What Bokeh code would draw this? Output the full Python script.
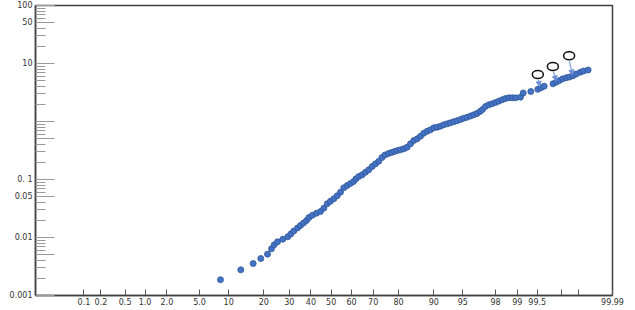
from statistics import NormalDist
from bokeh.plotting import figure
from bokeh.models import (ColumnDataSource, FixedTicker, Arrow, NormalHead,
                          CustomJSTickFormatter)
from bokeh.embed import file_html
from bokeh.resources import INLINE

# ---------------- data (cumulative probability %, value) ----------------
pct = [8.32, 12.92, 16.48, 18.94, 21.30, 22.78, 23.81, 25.11, 27.26, 29.37,
       30.68, 32.01, 33.69, 35.05, 36.47, 37.87, 39.07, 40.75, 42.70, 44.67,
       46.31, 48.01, 49.64, 51.30, 52.99, 54.62, 56.26, 57.93, 59.52, 60.99,
       62.17, 63.50, 65.08, 66.60, 68.08, 69.59, 71.02, 72.41, 73.73, 74.94,
       76.30, 77.46, 78.55, 79.64, 80.68, 81.79, 82.89, 83.92, 84.91, 85.88,
       86.78, 87.65, 88.49, 89.27, 90.02, 90.74, 91.40, 92.04, 92.65, 93.20,
       93.73, 94.21, 94.70, 95.13, 95.52, 95.92, 96.27, 96.58, 96.86, 97.07,
       97.31, 97.56, 97.79, 98.00, 98.19, 98.37, 98.53, 98.68, 98.82, 98.94,
       99.10, 99.18, 99.37, 99.510, 99.563, 99.612, 99.722, 99.754, 99.784,
       99.810, 99.835, 99.855, 99.874, 99.890, 99.908, 99.920, 99.934]
val = [0.00187, 0.00277, 0.00356, 0.00434, 0.00516, 0.00639, 0.00748, 0.00843,
       0.00935, 0.01028, 0.01149, 0.01295, 0.01458, 0.01610, 0.01778, 0.01964,
       0.02212, 0.02424, 0.02624, 0.02807, 0.03200, 0.03811, 0.04225, 0.04647,
       0.05236, 0.06039, 0.07192, 0.07880, 0.08531, 0.09237, 0.1028, 0.1126,
       0.1205, 0.1336, 0.1470, 0.1675, 0.1865, 0.2067, 0.2394, 0.2645, 0.2807,
       0.2920, 0.3039, 0.3162, 0.3252, 0.3383, 0.3605, 0.4125, 0.4703, 0.5031,
       0.5579, 0.6287, 0.6805, 0.7192, 0.7788, 0.7975, 0.8299, 0.8772, 0.9128,
       0.9497, 0.9922, 1.032, 1.083, 1.140, 1.181, 1.244, 1.305, 1.374, 1.487,
       1.610, 1.814, 1.941, 2.020, 2.126, 2.239, 2.367, 2.493, 2.563, 2.563,
       2.563, 2.624, 3.100, 3.290, 3.591, 3.811, 4.061, 4.467, 4.760, 5.092,
       5.446, 5.666, 5.849, 6.135, 6.592, 7.079, 7.424, 7.725]

# highlighted points: open circles with arrows
mark_pct = [99.51, 99.72, 99.853]
mark_val = [6.46, 8.88, 13.58]
arrow_pct0 = [99.52, 99.727, 99.855]
arrow_val0 = [5.195, 7.28, 10.83]
arrow_pct1 = [99.54, 99.752, 99.872]
arrow_val1 = [4.012, 4.992, 6.33]

# axis ticks
x_tick_pct = [0.1, 0.2, 0.5, 1.0, 2.0, 5.0, 10, 20, 30, 40, 50, 60, 70, 80,
              90, 95, 98, 99, 99.5, 99.8, 99.9]
x_tick_lab = ["0.1", "0.2", "0.5", "1.0", "2.0", "5.0", "10", "20", "30",
              "40", "50", "60", "70", "80", "90", "95", "98", "99", "99.5",
              "", ""]
x_end_label = "99.99"
y_major = [0.001, 0.005, 0.01, 0.05, 0.1, 0.5, 1, 10, 50, 100]
y_major_lab = ["0.001", "", "0.01", "0.05", "0. 1", "", "", "10", "50", "100"]

nd = NormalDist()


def zq(p):
    return nd.inv_cdf(p / 100.0)


X0, X1 = -3.696, 3.516

p = figure(width=635, height=310, x_range=(X0, X1), y_range=(0.001, 100),
           y_axis_type="log", output_backend="svg", toolbar_location=None,
           min_border_left=35, min_border_right=23, min_border_top=5,
           min_border_bottom=15)
p.xgrid.visible = False
p.ygrid.visible = False
p.outline_line_color = "#404040"
p.outline_line_width = 1.5
p.background_fill_color = "white"
p.border_fill_color = "white"

JS_NEAREST = """
    let best = 0, d = 1e9;
    for (let i = 0; i < tks.length; i++) {
        const e = Math.abs(LOGF ? Math.log(tks[i]) - Math.log(tick) : tks[i] - tick);
        if (e < d) { d = e; best = i; }
    }
    return labs[best];
"""

# x axis (normal probability scale)
xt = [zq(v) for v in x_tick_pct] + [X1]
xl = x_tick_lab + [x_end_label]
xa = p.xaxis[0]
xa.ticker = FixedTicker(ticks=xt, minor_ticks=[])
xa.formatter = CustomJSTickFormatter(args=dict(tks=xt, labs=xl),
                                     code=JS_NEAREST.replace("LOGF", "false"))
xa.major_tick_in = 6
xa.major_tick_out = 0
xa.minor_tick_line_color = None
xa.major_tick_line_color = "#555555"
xa.axis_line_color = "#404040"
xa.axis_line_width = 1.5
xa.major_label_text_font = "DejaVu Sans"
xa.major_label_text_font_size = "8px"
xa.major_label_text_color = "#333333"
xa.major_label_standoff = 2

# y axis (log)
y_minor = []
for d in [0.001, 0.01, 0.1, 1, 10]:
    for k in range(2, 10):
        v = round(k * d, 6)
        if v not in y_major:
            y_minor.append(v)
ya = p.yaxis[0]
ya.ticker = FixedTicker(ticks=y_major, minor_ticks=y_minor)
ya.formatter = CustomJSTickFormatter(args=dict(tks=y_major, labs=y_major_lab),
                                     code=JS_NEAREST.replace("LOGF", "true"))
ya.major_tick_in = 19
ya.major_tick_out = 0
ya.minor_tick_in = 10
ya.minor_tick_out = 0
ya.major_tick_line_color = "#9a9a9a"
ya.minor_tick_line_color = "#9a9a9a"
ya.axis_line_color = "#404040"
ya.axis_line_width = 1.5
ya.major_label_text_font = "DejaVu Sans"
ya.major_label_text_font_size = "8px"
ya.major_label_text_color = "#333333"
ya.major_label_standoff = 3

# data points
src = ColumnDataSource(dict(x=[zq(v) for v in pct], y=val))
p.scatter("x", "y", source=src, size=6, fill_color="#4472C4",
          line_color="#2F5597", line_width=0.8)

# arrows
asrc = ColumnDataSource(dict(x0=[zq(v) for v in arrow_pct0], y0=arrow_val0,
                             x1=[zq(v) for v in arrow_pct1], y1=arrow_val1))
p.add_layout(Arrow(source=asrc, x_start="x0", y_start="y0", x_end="x1",
                   y_end="y1", line_color="#7FA1DC", line_width=1.2,
                   end=NormalHead(size=5, fill_color="#6F93D6",
                                  line_color="#6F93D6")))

# open circles
msrc = ColumnDataSource(dict(x=[zq(v) for v in mark_pct], y=mark_val))
p.ellipse("x", "y", source=msrc, width=11, height=8, width_units="screen",
          height_units="screen", fill_color="white", line_color="#111111",
          line_width=1.5)

open("out.html", "w").write(file_html(p, INLINE))
